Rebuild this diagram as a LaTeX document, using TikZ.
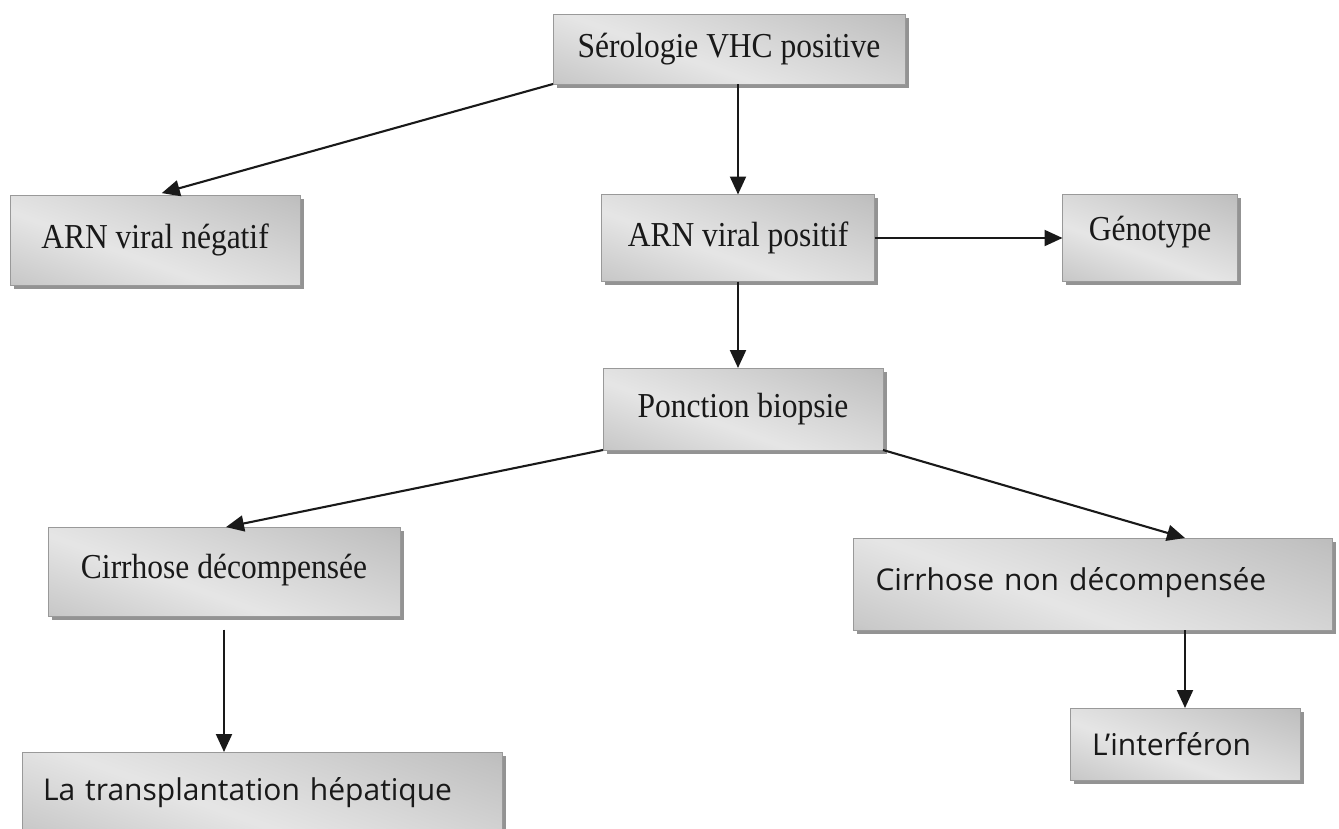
\documentclass[tikz,border=0pt]{standalone}
\usepackage{fontspec}
\setmainfont[FakeStretch=0.9]{Liberation Serif}
\newfontfamily\sansf{Open Sans}
\usetikzlibrary{arrows.meta,shadows,calc}
\pgfdeclarehorizontalshading{boxshade}{100bp}{color(0bp)=(gray!78); color(20bp)=(gray!42); color(42bp)=(gray!20); color(58bp)=(gray!32); color(78bp)=(gray!48); color(100bp)=(gray!72)}
\tikzset{
  box/.style={draw=gray!80, line width=0.8pt, shading=boxshade, shading angle=70,
    drop shadow={shadow xshift=3.5pt, shadow yshift=-3.5pt, fill=gray!85, opacity=1},
    inner sep=0pt, outer sep=0pt, text=black!90},
  serif/.style={font=\fontsize{35}{40}\selectfont},
  sans/.style={font=\sansf\fontsize{30}{36}\selectfont},
  arr/.style={-{Triangle[length=18pt,width=16pt]}, line width=2.1pt, black!90}
}
\begin{document}
\begin{tikzpicture}[x=1pt,y=-1pt]
\useasboundingbox[fill=white] (0,0) rectangle (1339,828);
\begin{scope}
\clip (0,0) rectangle (1339,828);
\node[box, serif, minimum width=352pt, minimum height=70pt] (S) at (729,49) {Sérologie VHC positive};
\node[box, serif, minimum width=290pt, minimum height=90pt] (A) at (155,240) {ARN viral négatif};
\node[box, serif, minimum width=273pt, minimum height=87pt] (P) at (738,238) {ARN viral positif};
\node[box, serif, minimum width=175pt, minimum height=87pt, text depth=20pt] (G) at (1150,238) {Génotype};
\node[box, serif, minimum width=280pt, minimum height=82pt] (B) at (743,409) {Ponction biopsie};
\node[box, serif, minimum width=352pt, minimum height=89pt, text depth=12pt] (CD) at (224,572) {Cirrhose décompensée};
\node[box, sans, minimum width=479pt, minimum height=92pt, text width=435pt, align=left, text depth=10pt] (CN) at (1093,584) {Cirrhose non décompensée};
\node[box, sans, minimum width=230pt, minimum height=72pt, text width=186pt, align=left] (I) at (1185,744) {L’interféron};
\node[box, sans, minimum width=480pt, minimum height=82pt, text width=438pt, align=left] (T) at (262,793) {La transplantation hépatique};
\end{scope}
\draw[arr, shorten >=7pt] (S.south west) -- (A.north);
\draw[arr] (S.south -| P.north) -- (P.north);
\draw[arr] (P.east) -- (G.west);
\draw[arr] (P.south) -- (P.south |- B.north);
\draw[arr, shorten >=2pt] (B.south west) -- (CD.north);
\draw[arr] (B.south east) -- (CN.north -| I.north);
\draw[arr, shorten <=13pt] (CD.south) -- (CD.south |- T.north);
\draw[arr] (I.north |- CN.south) -- (I.north);
\end{tikzpicture}
\end{document}
